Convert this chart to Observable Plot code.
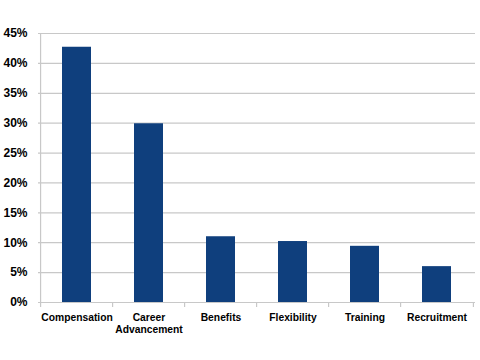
<!DOCTYPE html>
<html>
<head>
<meta charset="utf-8">
<script src="https://cdn.jsdelivr.net/npm/d3@7"></script>
<script src="https://cdn.jsdelivr.net/npm/@observablehq/plot@0.6"></script>
<style>
  html, body { margin: 0; padding: 0; background: #fff; }
  #chart svg { display: block; }
</style>
</head>
<body>
<div id="chart"></div>
<script>
const categories = ["Compensation", "Career\nAdvancement", "Benefits", "Flexibility", "Training", "Recruitment"];
const values = [0.427, 0.299, 0.110, 0.102, 0.094, 0.060];
const yTicks = [0, 0.05, 0.10, 0.15, 0.20, 0.25, 0.30, 0.35, 0.40, 0.45];

const data = categories.map((c, i) => ({category: c, value: values[i]}));

const W = 480, H = 360, mL = 38, mR = 5, mT = 33, mB = 58;
const bw = (W - mL - mR) / categories.length;
const grey = "#c8c8c8";

const chart = Plot.plot({
  width: W,
  height: H,
  marginLeft: mL,
  marginRight: mR,
  marginTop: mT,
  marginBottom: mB,
  style: {fontFamily: "Liberation Sans, Arial, sans-serif", background: "#fff"},
  x: {domain: categories, paddingInner: 0.6, paddingOuter: 0.3, label: null},
  y: {domain: [0, 0.45], label: null},
  marks: [
    Plot.ruleY(yTicks, {stroke: grey, strokeWidth: 1.2}),
    Plot.ruleX([categories[0]], {x: d => d, dx: -bw / 2, y1: 0.45, y2: 0, insetBottom: -5, stroke: grey, strokeWidth: 1.2}),
    Plot.ruleX(categories.slice(1), {x: d => d, dx: -bw / 2, y1: 0, y2: 0, insetBottom: -5, stroke: grey, strokeWidth: 1.2}),
    Plot.ruleX([categories[categories.length - 1]], {x: d => d, dx: bw / 2, y1: 0, y2: 0, insetBottom: -5, stroke: grey, strokeWidth: 1.2}),
    Plot.barY(data, {x: "category", y: "value", fill: "#0f3f7d"}),
    Plot.axisY({ticks: yTicks, tickFormat: d => Math.round(d * 100) + "%", tickSize: 0, tickPadding: 11, fontSize: 12, fontWeight: "bold", fill: "#000"}),
    Plot.axisX({tickSize: 0, tickPadding: 10, fontSize: 10.3, fontWeight: "bold", fill: "#000", lineHeight: 1.15})
  ]
});
document.getElementById("chart").appendChild(chart);
</script>
</body>
</html>
